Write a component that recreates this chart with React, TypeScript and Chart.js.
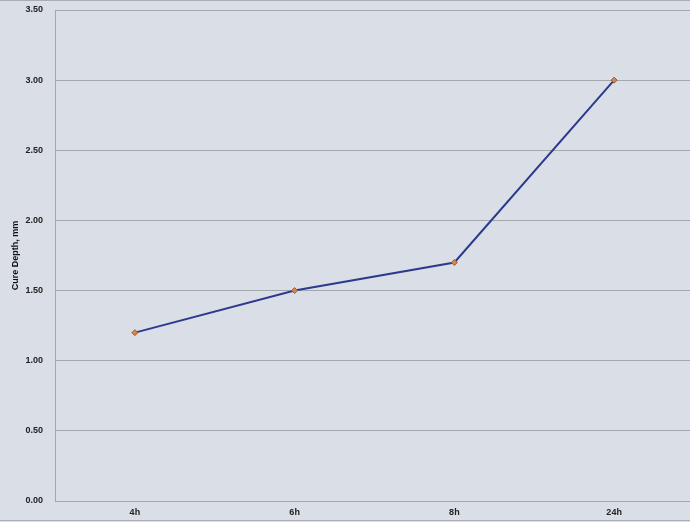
import React, { useEffect, useRef } from "react";
import { Chart, registerables } from "chart.js";

Chart.register(...registerables);

const categories = ["4h", "6h", "8h", "24h"];
const cureDepth = [1.2, 1.5, 1.7, 3.0];
const yTitle = "Cure Depth, mm";

const borderPlugin = {
  id: "borders",
  afterDraw(chart: any) {
    const ctx = chart.ctx;
    ctx.save();
    ctx.strokeStyle = "#a9adb5";
    ctx.lineWidth = 1;
    ctx.beginPath();
    ctx.moveTo(0, 0.5);
    ctx.lineTo(chart.width, 0.5);
    ctx.moveTo(0, 520.5);
    ctx.lineTo(chart.width, 520.5);
    ctx.stroke();
    ctx.restore();
  },
};

export default function App() {
  const ref = useRef<HTMLCanvasElement>(null);
  useEffect(() => {
    document.body.style.margin = "0";
    const chart = new Chart(ref.current!, {
      type: "line",
      data: {
        labels: categories,
        datasets: [
          {
            data: cureDepth,
            borderColor: "#2d3a8c",
            borderWidth: 2,
            pointStyle: "rectRot",
            pointRadius: 3,
            pointBackgroundColor: "#d9844a",
            pointBorderColor: "#9a5a36",
            pointBorderWidth: 1,
            tension: 0,
          },
        ],
      },
      options: {
        animation: false,
        responsive: false,
        maintainAspectRatio: false,
        layout: { autoPadding: false, padding: { top: 10, right: 0, left: 0, bottom: 0 } },
        plugins: { legend: { display: false }, tooltip: { enabled: false } },
        scales: {
          x: {
            offset: true,
            grid: { display: false, drawTicks: false },
            border: { color: "#a3a8b0", width: 1 },
            ticks: {
              color: "#222",
              font: { family: "Liberation Sans", size: 9, weight: "bold" },
              padding: 6,
              maxRotation: 0,
            },
            afterFit(s: any) {
              s.height = 21;
              s.paddingLeft = 0;
              s.paddingRight = 0;
            },
          },
          y: {
            min: 0,
            max: 3.5,
            grid: { color: "#a3a8b0", lineWidth: 1, drawTicks: false },
            border: { color: "#a3a8b0", width: 1 },
            ticks: {
              stepSize: 0.5,
              color: "#222",
              font: { family: "Liberation Sans", size: 9, weight: "bold" },
              padding: 12,
              callback: (v: any) => Number(v).toFixed(2),
            },
            title: {
              display: true,
              text: yTitle,
              color: "#111",
              font: { family: "Liberation Sans", size: 9, weight: "bold" },
              padding: { top: 10, bottom: 4 },
            },
            afterFit(s: any) {
              s.width = 55;
              s.paddingTop = 0;
              s.paddingBottom = 0;
            },
          },
        },
      },
      plugins: [borderPlugin],
    });
    return () => chart.destroy();
  }, []);
  return (
    <div style={{ width: 690, height: 522, overflow: "hidden", background: "#d9dee7" }}>
      <canvas ref={ref} width={694} height={522} style={{ display: "block" }} />
    </div>
  );
}
